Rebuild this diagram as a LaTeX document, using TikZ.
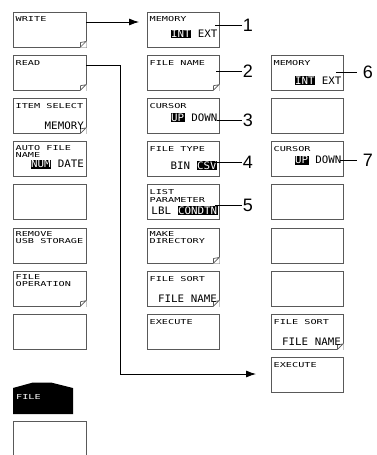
\documentclass[tikz,border=0pt]{standalone}
\usepackage{fontspec}
\usetikzlibrary{arrows.meta,calc}
\newfontfamily\lblf[FakeStretch=1.5]{DejaVu Sans Mono}
\newfontfamily\valf[FakeStretch=1.05]{DejaVu Sans Mono}
\setsansfont{Liberation Sans}
\newcommand\hlt[1]{{\setlength\fboxsep{0.6pt}\colorbox{black}{\textcolor{white}{#1}}}}
\newcommand\dogear[1]{%
  \fill[white] ($(#1.south east)+(-5.8,0.6)$) -- ($(#1.south east)+(0.6,0.6)$) -- ($(#1.south east)+(0.6,-5.8)$) -- cycle;
  \draw[black!65, line width=0.7pt, line join=round] ($(#1.south east)+(-5.5,0)$) -- ($(#1.south east)+(0,-5.5)$) -- ($(#1.south east)+(-5.5,-4.5)$) -- cycle;}
\tikzset{
  btn/.style={draw=black!65, line width=0.9pt, fill=white, minimum width=72pt, minimum height=35pt, anchor=north west, inner sep=0pt, outer sep=0pt},
  lbl/.style={font=\lblf\fontsize{6.8}{7}\selectfont, anchor=west, inner sep=0pt},
  val/.style={font=\valf\fontsize{10.3}{11}\selectfont, anchor=east, inner sep=0pt},
  num/.style={font=\sffamily\fontsize{18}{18}\selectfont, inner sep=0pt},
  lead/.style={line width=0.8pt},
  arr/.style={line width=0.8pt, line join=miter, -{Latex[length=10pt,width=7pt]}}
}
\begin{document}
\begin{tikzpicture}[x=1pt,y=-1pt]
\useasboundingbox (0,0) rectangle (377,455);
% left column
\foreach \i/\y in {1/12,2/55.2,3/98.4,4/141.6,5/184.8,6/228,7/271.2,8/314.4}
  \node[btn, minimum width=73pt] (L\i) at (13,\y) {};
% middle column
\foreach \i/\y in {1/12,2/55.2,3/98.4,4/141.6,5/184.8,6/228,7/271.2,8/314.4}
  \node[btn] (M\i) at (147,\y) {};
% right column
\foreach \i/\y in {2/55.2,3/98.4,4/141.6,5/184.8,6/228,7/271.2,8/314.4,9/357.6}
  \node[btn] (Q\i) at (271,\y) {};
% dog ears
\dogear{L1}\dogear{L2}\dogear{L3}\dogear{L7}
\dogear{M2}\dogear{M6}\dogear{M7}\dogear{Q8}
% left texts
\node[lbl] (tL1) at ($(L1.north west)+(2.5,7.5)$) {WRITE};
\node[lbl] (tL2) at ($(L2.north west)+(2.5,7.5)$) {READ};
\node[lbl] (tL3) at ($(L3.north west)+(2.5,7.5)$) {ITEM SELECT};
\node[val] (vL3) at ($(L3.north east)+(-2,27)$) {MEMORY};
\node[lbl] (tL4a) at ($(L4.north west)+(2.5,6)$) {AUTO FILE};
\node[lbl] (tL4b) at ($(L4.north west)+(2.5,13)$) {NAME};
\node[val] (vL4) at ($(L4.north east)+(-2,22.5)$) {\hlt{NUM} DATE};
\node[lbl] (tL6a) at ($(L6.north west)+(2.5,6)$) {REMOVE};
\node[lbl] (tL6b) at ($(L6.north west)+(2.5,13)$) {USB STORAGE};
\node[lbl] (tL7a) at ($(L7.north west)+(2.5,6)$) {FILE};
\node[lbl] (tL7b) at ($(L7.north west)+(2.5,13)$) {OPERATION};
% middle texts
\node[lbl] (tM1) at ($(M1.north west)+(2.5,7.5)$) {MEMORY};
\node[val] (vM1) at ($(M1.north east)+(-1.5,22)$) {\hlt{INT} EXT};
\node[lbl] (tM2) at ($(M2.north west)+(2.5,7.5)$) {FILE NAME};
\node[lbl] (tM3) at ($(M3.north west)+(2.5,7.5)$) {CURSOR};
\node[val] (vM3) at ($(M3.north east)+(-1.5,19.5)$) {\hlt{UP} DOWN};
\node[lbl] (tM4) at ($(M4.north west)+(2.5,7.5)$) {FILE TYPE};
\node[val] (vM4) at ($(M4.north east)+(-1.5,24)$) {BIN \hlt{CSV}};
\node[lbl] (tM5a) at ($(M5.north west)+(2.5,7.5)$) {LIST};
\node[lbl] (tM5b) at ($(M5.north west)+(2.5,15)$) {PARAMETER};
\node[val] (vM5) at ($(M5.north east)+(-1,26)$) {LBL \hlt{CONDTN}};
\node[lbl] (tM6a) at ($(M6.north west)+(2.5,6)$) {MAKE};
\node[lbl] (tM6b) at ($(M6.north west)+(2.5,13)$) {DIRECTORY};
\node[lbl] (tM7) at ($(M7.north west)+(2.5,7.5)$) {FILE SORT};
\node[val] (vM7) at ($(M7.north east)+(-2,28)$) {FILE NAME};
\node[lbl] (tM8) at ($(M8.north west)+(2.5,7.5)$) {EXECUTE};
% right texts
\node[lbl] (tQ2) at ($(Q2.north west)+(2.5,7.5)$) {MEMORY};
\node[val] (vQ2) at ($(Q2.north east)+(-1.5,25.5)$) {\hlt{INT} EXT};
\node[lbl] (tQ4) at ($(Q4.north west)+(2.5,7.5)$) {CURSOR};
\node[val] (vQ4) at ($(Q4.north east)+(-1.5,18.5)$) {\hlt{UP} DOWN};
\node[lbl] (tQ8) at ($(Q8.north west)+(2.5,7.5)$) {FILE SORT};
\node[val] (vQ8) at ($(Q8.north east)+(-2,27.5)$) {FILE NAME};
\node[lbl] (tQ9) at ($(Q9.north west)+(2.5,7.5)$) {EXECUTE};
% FILE tab
\fill (13,414) -- (13,388) -- (33,382.5) -- (51,382.5) -- (73,388) -- (73,414) -- cycle;
\node[lbl, text=white] (tab) at (16,397) {FILE};
\draw[draw=black!65, line width=0.9pt] (13,458) -- (13,421) -- (86,421) -- (86,458);
% arrows
\coordinate (wa) at ($(L1.north east)+(0,10)$);
\draw[arr, shorten >=8pt] (wa) -- (wa -| M1.west);
\coordinate (ra) at ($(L2.north east)+(0,10)$);
\coordinate (rc) at (120,374);
\draw[arr, shorten >=15pt] (ra) -- (ra -| rc) -- (rc) -- (rc -| Q9.west);
% numbers and leaders
\node[num] (n1) at (248,25) {1};
\node[num] (n2) at (248,71) {2};
\node[num] (n3) at (248,120) {3};
\node[num] (n4) at (248,162) {4};
\node[num] (n5) at (248,205) {5};
\node[num] (n6) at (368,72) {6};
\node[num] (n7) at (368,160) {7};
\coordinate (c1) at ($(M1.north east)+(-4,13)$);
\coordinate (c2) at ($(M2.north east)+(-3,15.8)$);
\coordinate (c3) at ($(M3.north east)+(-2,21.6)$);
\coordinate (c4) at ($(M4.north east)+(-6,20.4)$);
\coordinate (c5) at ($(M5.north east)+(-4,20.2)$);
\coordinate (c6) at ($(Q2.north east)+(-7,16.8)$);
\coordinate (c7) at ($(Q4.north east)+(-3,18.4)$);
\foreach \k in {1,2,3,4,5}
  \draw[lead] (c\k) -- ([xshift=-1pt]c\k -| n\k.west);
\foreach \k in {6,7}
  \draw[lead] (c\k) -- ([xshift=-6pt]c\k -| n\k.west);
\end{tikzpicture}
\end{document}
